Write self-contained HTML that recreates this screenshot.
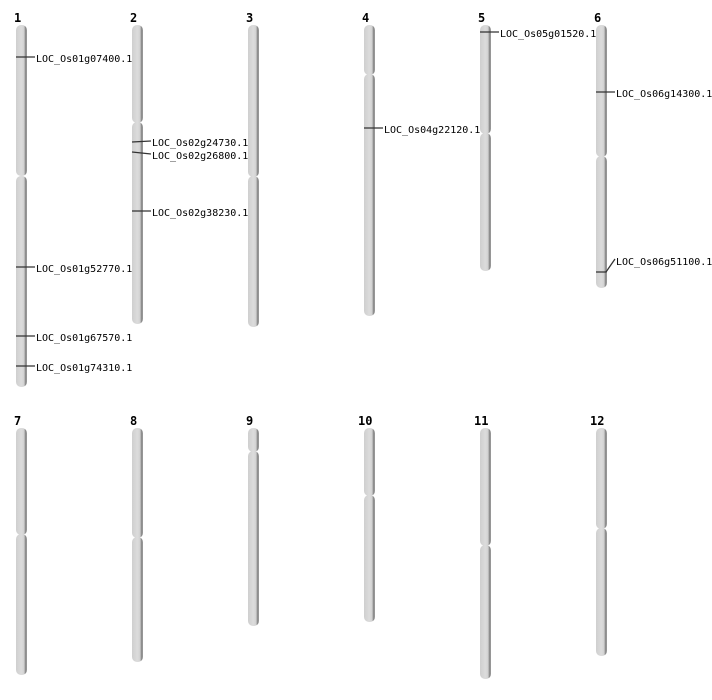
<!DOCTYPE html>
<html><head><meta charset="utf-8"><style>
html,body{margin:0;padding:0;background:#fff;}
svg{display:block;}
.n{font-family:"DejaVu Sans Mono","Liberation Mono",monospace;font-weight:bold;font-size:12px;fill:#000;}
.l{font-family:"DejaVu Sans Mono","Liberation Mono",monospace;font-size:10px;fill:#000;}
</style></head><body>
<svg width="712" height="700" viewBox="0 0 712 700" xmlns="http://www.w3.org/2000/svg">
<defs>
<linearGradient id="g" x1="0" x2="1" y1="0" y2="0">
<stop offset="0" stop-color="#cfcfcf"/>
<stop offset="0.5" stop-color="#dcdcdc"/>
<stop offset="0.75" stop-color="#d0d0d0"/>
<stop offset="0.82" stop-color="#8a8a8a"/>
<stop offset="1" stop-color="#9a9a9a"/>
</linearGradient>
</defs>
<g fill="url(#g)">
<!-- row 1 -->
<rect x="16" y="25" width="11" height="151" rx="5"/><rect x="16" y="176" width="11" height="211" rx="5"/>
<rect x="132" y="25" width="11" height="98" rx="5"/><rect x="132" y="122" width="11" height="202" rx="5"/>
<rect x="248" y="25" width="11" height="152" rx="5"/><rect x="248" y="176" width="11" height="151" rx="5"/>
<rect x="364" y="25" width="11" height="50" rx="5"/><rect x="364" y="74" width="11" height="242" rx="5"/>
<rect x="480" y="25" width="11" height="109" rx="5"/><rect x="480" y="133" width="11" height="138" rx="5"/>
<rect x="596" y="25" width="11" height="132" rx="5"/><rect x="596" y="156" width="11" height="132" rx="5"/>
<!-- row 2 -->
<rect x="16" y="428" width="11" height="107" rx="5"/><rect x="16" y="534" width="11" height="141" rx="5"/>
<rect x="132" y="428" width="11" height="110" rx="5"/><rect x="132" y="537" width="11" height="125" rx="5"/>
<rect x="248" y="428" width="11" height="24" rx="5"/><rect x="248" y="451" width="11" height="175" rx="5"/>
<rect x="364" y="428" width="11" height="68" rx="5"/><rect x="364" y="495" width="11" height="127" rx="5"/>
<rect x="480" y="428" width="11" height="118" rx="5"/><rect x="480" y="545" width="11" height="134" rx="5"/>
<rect x="596" y="428" width="11" height="101" rx="5"/><rect x="596" y="528" width="11" height="128" rx="5"/>
</g>
<g class="n">
<text x="14" y="22">1</text><text x="130" y="22">2</text><text x="246" y="22">3</text>
<text x="362" y="22">4</text><text x="478" y="22">5</text><text x="594" y="22">6</text>
<text x="14" y="425">7</text><text x="130" y="425">8</text><text x="246" y="425">9</text>
<text x="358" y="425">10</text><text x="474" y="425">11</text><text x="590" y="425">12</text>
</g>
<g stroke="#333" stroke-width="1.3" fill="none">
<path d="M16 57H35"/><path d="M16 267H35"/><path d="M16 336H35"/><path d="M16 366H35"/>
<path d="M132 142L151 141"/><path d="M132 152L151 154"/><path d="M132 211H151"/>
<path d="M364 128H383"/>
<path d="M480 32H499"/>
<path d="M596 92H615"/>
<path d="M596 272H606L615 259"/>
</g>
<g class="l">
<text x="36" y="62">LOC_Os01g07400.1</text>
<text x="36" y="272">LOC_Os01g52770.1</text>
<text x="36" y="341">LOC_Os01g67570.1</text>
<text x="36" y="371">LOC_Os01g74310.1</text>
<text x="152" y="146">LOC_Os02g24730.1</text>
<text x="152" y="159">LOC_Os02g26800.1</text>
<text x="152" y="216">LOC_Os02g38230.1</text>
<text x="384" y="133">LOC_Os04g22120.1</text>
<text x="500" y="37">LOC_Os05g01520.1</text>
<text x="616" y="97">LOC_Os06g14300.1</text>
<text x="616" y="265">LOC_Os06g51100.1</text>
</g>
</svg>
</body></html>
